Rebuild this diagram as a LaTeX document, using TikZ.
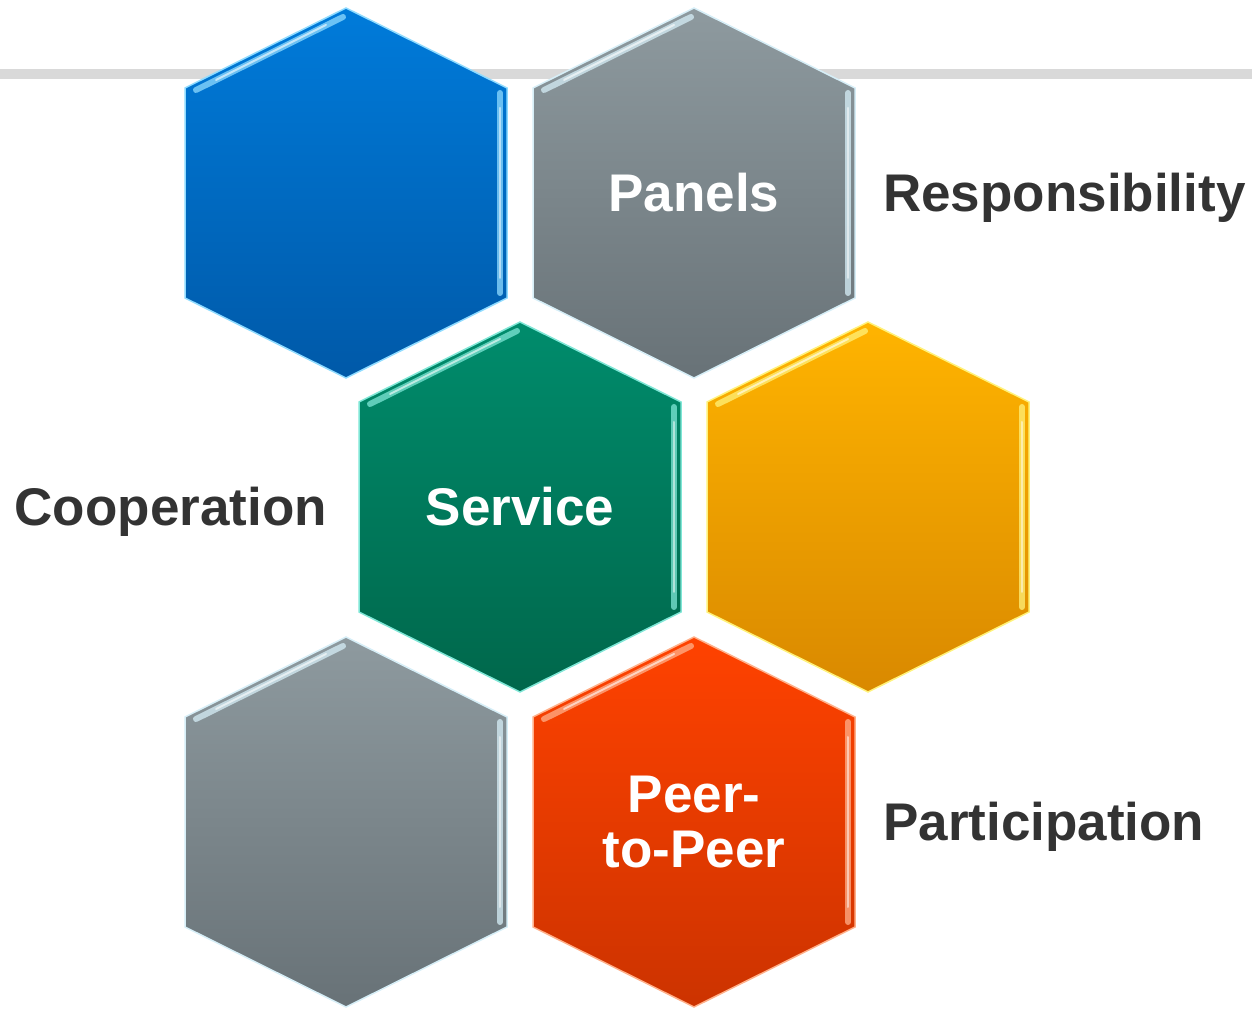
\documentclass[tikz,border=0pt]{standalone}
\usepackage{fontspec}
\setmainfont{Liberation Sans}
\usepackage{xcolor}
\usepackage{tikz}
\usetikzlibrary{positioning}

\definecolor{txtgray}{HTML}{333333}
\definecolor{rulegray}{HTML}{D9D9D9}
\definecolor{blueTop}{HTML}{007BDA}
\definecolor{blueBot}{HTML}{0059A8}
\definecolor{blueHi}{HTML}{8FDBFF}
\definecolor{grayTop}{HTML}{8E9A9F}
\definecolor{grayBot}{HTML}{687277}
\definecolor{grayHi}{HTML}{D6EEF7}
\definecolor{greenTop}{HTML}{008C6C}
\definecolor{greenBot}{HTML}{00674B}
\definecolor{greenHi}{HTML}{7FE6D6}
\definecolor{orangeTop}{HTML}{FFB400}
\definecolor{orangeBot}{HTML}{D98900}
\definecolor{orangeHi}{HTML}{FFF27A}
\definecolor{redTop}{HTML}{FF4200}
\definecolor{redBot}{HTML}{CC3300}
\definecolor{redHi}{HTML}{FFB08A}

\tikzset{
  hextext/.style={font=\bfseries\fontsize{53}{55}\selectfont, text=white, align=center, inner sep=0pt},
  side/.style={font=\bfseries\fontsize{53}{55}\selectfont, text=txtgray, inner sep=0pt}
}

% one hexagon cell: name, centre, colour family, text
\newcommand{\hexcell}[4]{%
  \begin{scope}[shift={#2}]
    \shadedraw[top color=#3Top, bottom color=#3Bot, draw=#3Hi, line width=1.5pt]
      (0,185) -- (161,105) -- (161,-105) -- (0,-185) -- (-161,-105) -- (-161,105) -- cycle;
    % glossy streaks
    \draw[#3Hi, line width=6pt, line cap=round, opacity=.75] (-150,103) -- (-3,176);
    \draw[white, line width=2pt, line cap=round, opacity=.6] (-130,113) -- (-20,168);
    \draw[#3Hi, line width=6pt, line cap=round, opacity=.75] (154,100) -- (154,-100);
    \draw[white, line width=2pt, line cap=round, opacity=.5] (154,85) -- (154,-85);
    \node[hextext] (#1) at (0,0) {#4};
  \end{scope}}

\begin{document}
\begin{tikzpicture}[x=1pt, y=1pt]
    \useasboundingbox (0,0) rectangle (1252,1009);
    % \draw (0,0) grid (1252,1009);
    \draw[rulegray, line width=10pt] (0,935) -- (1252,935);

    \hexcell{blank1}{(346,816)}{blue}{}
    \hexcell{panels}{(694,816)}{gray}{Panels}
    \hexcell{service}{(520,502)}{green}{Service}
    \hexcell{blank2}{(868,502)}{orange}{}
    \hexcell{blank3}{(346,187)}{gray}{}
    \hexcell{peer}{(694,187)}{red}{Peer-\\to-Peer}

    \node[side, anchor=base west] (resp) at (883,797) {Responsibility};
    \node[side, anchor=base east] (coop) at (327,483) {Cooperation};
    \node[side, anchor=base west] (part) at (883,168) {Participation};
\end{tikzpicture}
\end{document}
